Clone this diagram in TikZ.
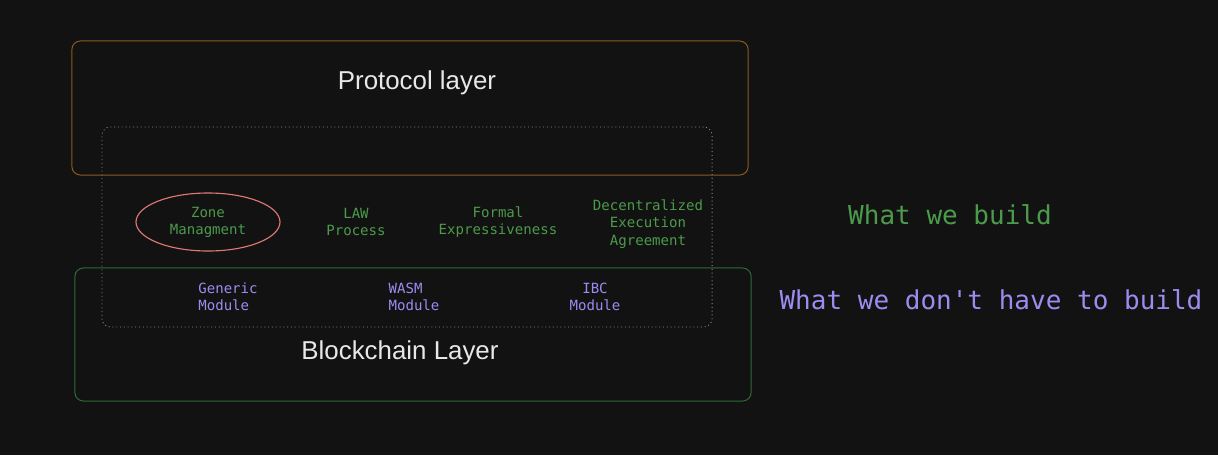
\documentclass[tikz,border=0pt]{standalone}
\usepackage{fontspec}
\setmainfont{Liberation Sans}
\setmonofont{DejaVu Sans Mono}
\usepackage{tikz}
\usetikzlibrary{positioning}
\usetikzlibrary{shapes}

\definecolor{bgcol}{HTML}{121212}
\definecolor{protocolcol}{HTML}{8A5A1F}
\definecolor{chaincol}{HTML}{2F6B34}
\definecolor{dotcol}{HTML}{8A8A8A}
\definecolor{buildcol}{HTML}{4C9A4C}
\definecolor{modcol}{HTML}{9B8CF0}
\definecolor{titlecol}{HTML}{E8E8E8}
\definecolor{ringcol}{HTML}{E07878}

\tikzset{
	layerbox/.style={draw, rounded corners=6pt, line width=0.7pt, inner sep=0pt},
	layertitle/.style={text=titlecol, font=\fontsize{18.4}{22}\selectfont},
	buildlabel/.style={text=buildcol, align=center, font=\ttfamily\fontsize{10}{12.2}\selectfont},
	modlabel/.style={text=modcol, align=center, font=\ttfamily\fontsize{10}{12.2}\selectfont},
	legend/.style={font=\ttfamily\fontsize{18.5}{22}\selectfont}
}

\begin{document}
\begin{tikzpicture}[x=0.025cm,y=-0.025cm]
	% background
	\fill[bgcol] (0,0) rectangle (1218,455);
	\useasboundingbox (0,0) rectangle (1218,455);
	
	%layers
	\node (protocol) [layerbox, draw=protocolcol, minimum width=16.9cm, minimum height=3.35cm] at (410,108) {};
	\node (chain) [layerbox, draw=chaincol, minimum width=16.9cm, minimum height=3.325cm] at (413,334.5) {};
	\node (scope) [layerbox, draw=dotcol, dotted, line width=0.6pt, minimum width=15.25cm, minimum height=5cm] at (407,227) {};
	
	\node (protocol_title) [layertitle] at (417,83) {Protocol layer};
	\node (chain_title) [layertitle] at (400,353) {Blockchain Layer};
	
	%what we build
	\node (zone) [buildlabel] at (208,222) {Zone\\Managment};
	\node (law) [buildlabel] at (356,222) {LAW\\Process};
	\node (formal) [buildlabel] at (498,222) {Formal\\Expressiveness};
	\node (agreement) [buildlabel] at (648,224) {Decentralized\\Execution\\Agreement};
	\draw[ringcol, line width=0.8pt] (208,222) ellipse (72 and 29);
	
	%modules
	\node (generic) [modlabel, align=left] at (228,297) {Generic\\Module};
	\node (wasm) [modlabel, align=left] at (414,297) {WASM\\Module};
	\node (ibc) [modlabel] at (595,297) {IBC\\Module};
	
	%legend
	\node (build_legend) [legend, text=buildcol] at (950,215) {What we build};
	\node (nobuild_legend) [legend, text=modcol] at (991,300) {What we don't have to build};
\end{tikzpicture}
\end{document}
